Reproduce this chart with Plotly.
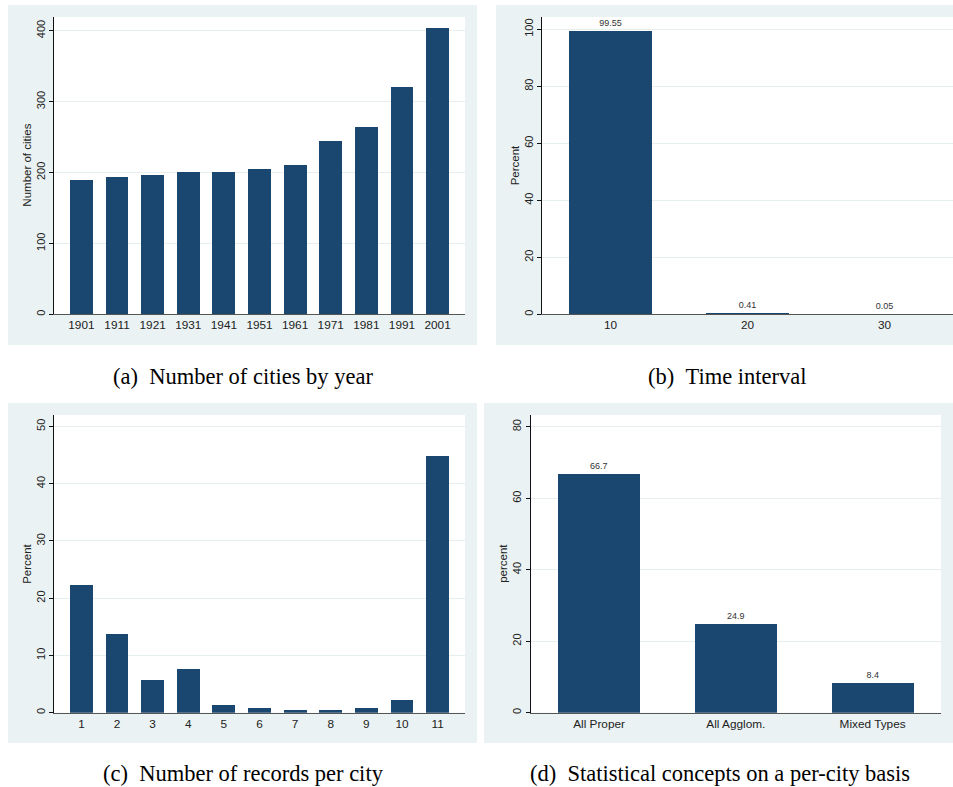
import plotly.graph_objects as go

# ---------------- data ----------------
years = ["1901", "1911", "1921", "1931", "1941", "1951", "1961", "1971", "1981", "1991", "2001"]
cities = [190, 193, 197, 200, 201, 205, 210, 244, 264, 321, 404]

intervals = ["10", "20", "30"]
interval_pct = [99.55, 0.41, 0.05]

records = ["1", "2", "3", "4", "5", "6", "7", "8", "9", "10", "11"]
records_pct = [22.3, 13.8, 5.8, 7.6, 1.3, 0.8, 0.5, 0.5, 0.8, 2.2, 44.9]

concepts = ["All Proper", "All Agglom.", "Mixed Types"]
concept_pct = [66.7, 24.9, 8.4]

captions = ["(a)\u00a0\u00a0Number of cities by year", "(b)\u00a0\u00a0Time interval",
            "(c)\u00a0\u00a0Number of records per city", "(d)\u00a0\u00a0Statistical concepts on a per-city basis"]
ytitles = ["Number of cities", "Percent", "Percent", "percent"]

# ---------------- styling ----------------
W, H = 953, 787
BAR = "#1a476f"
PANEL_BG = "#eaf2f3"
GRID = "#e6eef0"
SANS = "Liberation Sans, Arial, Helvetica, sans-serif"
SERIF = "Liberation Serif, Times New Roman, serif"


def fx(px):
    return px / W


def fy(py):
    return 1 - py / H


# plot areas in pixels: (left, right, top, bottom)
plots = [(54, 465, 17, 314.3), (542, 953, 17, 314.3), (54, 465, 415, 712.7), (530.7, 941, 415, 712.7)]
panels = [(8, 477, 5, 345), (496, 953, 5, 345), (8, 477, 403, 743), (484, 953, 403, 743)]
yranges = [[0, 419.3], [0, 104.3], [0, 52.0], [0, 83.3]]
xranges = [[-0.77, 10.77], [-0.5, 2.5], [-0.77, 10.77], [-0.5, 2.5]]
ytickvals = [[0, 100, 200, 300, 400], [0, 20, 40, 60, 80, 100], [0, 10, 20, 30, 40, 50], [0, 20, 40, 60, 80]]
ytitle_x = [27, 514.7, 27, 503]
caption_pos = [(243, 376), (727, 376), (243, 773), (720, 773)]

fig = go.Figure()

fig.add_trace(go.Bar(x=years, y=cities, width=[0.64] * len(years), marker=dict(color=BAR, line=dict(width=0)),
                     xaxis="x", yaxis="y", showlegend=False))
fig.add_trace(go.Bar(x=intervals, y=interval_pct, width=[0.6] * len(intervals),
                     marker=dict(color=BAR, line=dict(width=0)),
                     text=[f"{v:.2f}" for v in interval_pct], textposition="outside",
                     textfont=dict(size=9, color="#333333", family=SANS), cliponaxis=False,
                     constraintext="none", xaxis="x2", yaxis="y2", showlegend=False))
fig.add_trace(go.Bar(x=records, y=records_pct, width=[0.64] * len(records), marker=dict(color=BAR, line=dict(width=0)),
                     xaxis="x3", yaxis="y3", showlegend=False))
fig.add_trace(go.Bar(x=concepts, y=concept_pct, width=[0.6] * len(concepts),
                     marker=dict(color=BAR, line=dict(width=0)),
                     text=[f"{v:.1f}" for v in concept_pct], textposition="outside",
                     textfont=dict(size=9, color="#333333", family=SANS), cliponaxis=False,
                     constraintext="none", xaxis="x4", yaxis="y4", showlegend=False))

layout = dict(width=W, height=H, margin=dict(l=0, r=0, t=0, b=0), autosize=False,
              paper_bgcolor="white", plot_bgcolor="rgba(0,0,0,0)",
              font=dict(family=SANS, size=11, color="#222222"), bargap=0)

shapes = []
for (l, r, t, b) in panels:
    shapes.append(dict(type="rect", xref="paper", yref="paper", x0=fx(l), x1=fx(r), y0=fy(b), y1=fy(t),
                       fillcolor=PANEL_BG, line=dict(width=0), layer="below"))
for (l, r, t, b) in plots:
    shapes.append(dict(type="rect", xref="paper", yref="paper", x0=fx(l), x1=fx(r), y0=fy(b), y1=fy(t),
                       fillcolor="white", line=dict(width=0), layer="below"))

annotations = []
for i in range(4):
    l, r, t, b = plots[i]
    sfx = "" if i == 0 else str(i + 1)
    layout["xaxis" + sfx] = dict(domain=[fx(l), fx(r)], anchor="y" + sfx, type="category", range=xranges[i],
                                 showline=True, linecolor="#555555", linewidth=1, ticks="",
                                 showgrid=False, zeroline=False,
                                 tickfont=dict(size=11.8, color="#222222", family=SANS), fixedrange=True)
    layout["yaxis" + sfx] = dict(domain=[fy(b), fy(t)], anchor="x" + sfx, range=yranges[i], tickvals=ytickvals[i],
                                 showline=True, linecolor="#111111", linewidth=1, ticks="outside", ticklen=4,
                                 tickcolor="#111111", tickangle=-90, showgrid=True, gridcolor=GRID, gridwidth=1,
                                 zeroline=False, tickfont=dict(size=11, color="#222222", family=SANS),
                                 fixedrange=True)
    annotations.append(dict(text=ytitles[i], xref="paper", yref="paper", x=fx(ytitle_x[i]), y=fy((t + b) / 2),
                            xanchor="center", yanchor="middle", textangle=-90, showarrow=False,
                            font=dict(size=11.5, color="#222222", family=SANS)))
    cx, cy = caption_pos[i]
    annotations.append(dict(text=captions[i], xref="paper", yref="paper", x=fx(cx), y=fy(cy),
                            xanchor="center", yanchor="middle", showarrow=False,
                            font=dict(size=22.5, color="black", family=SERIF)))

layout["shapes"] = shapes
layout["annotations"] = annotations
fig.update_layout(**layout)

fig.write_html("out.html", config={"displayModeBar": False},
               post_script="document.body.style.margin='0';document.body.style.overflow='hidden';")
